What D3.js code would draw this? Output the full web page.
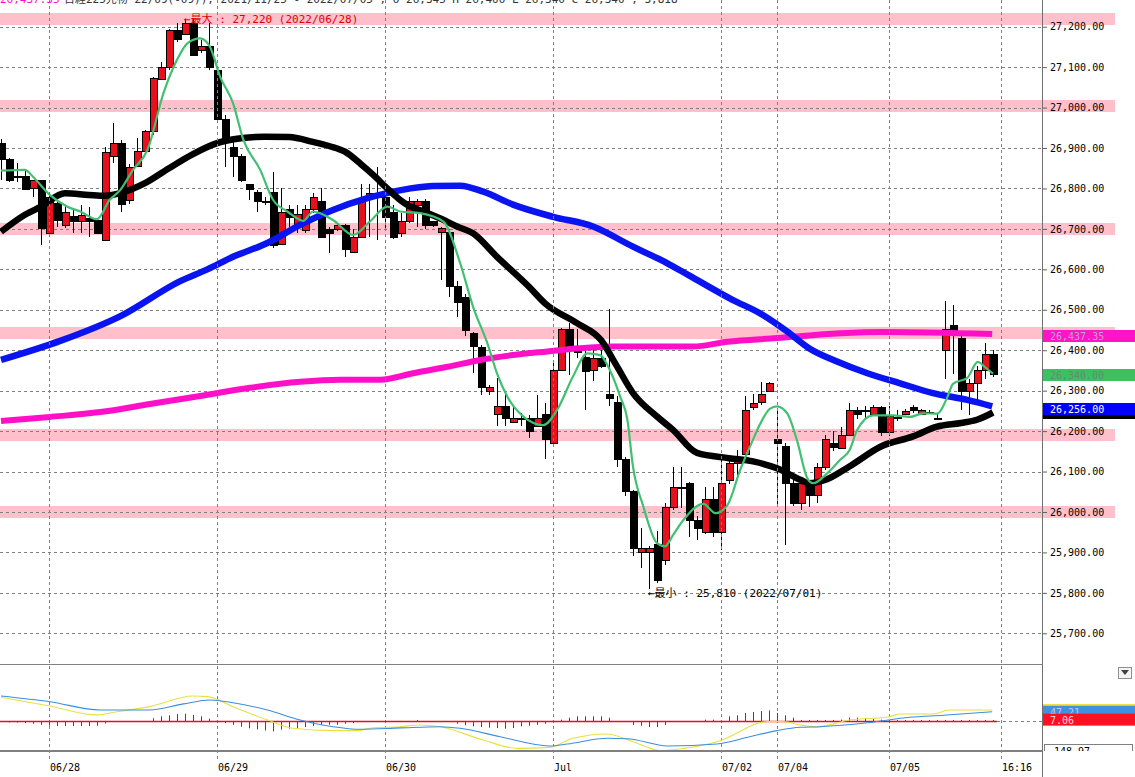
<!DOCTYPE html>
<html><head><meta charset="utf-8">
<script src="https://cdn.jsdelivr.net/npm/d3@7"></script>
<style>
body{margin:0;background:#fff;}
svg{display:block;font-family:"DejaVu Sans Mono","Noto Sans CJK JP",monospace;}
</style>
</head><body>
<svg id="chart" width="1135" height="777"></svg>
<script>
// ---------- DATA ----------
const opens  = [26912,26872,26832,26832,26800,26821,26692,26763,26712,26732,26720,26727,26722,26673,26881,26912,26770,26854,26891,26940,27072,27101,27192,27182,27210,27143,27152,27093,26972,26903,26881,26811,26792,26770,26792,26665,26750,26713,26697,26750,26769,26700,26700,26710,26643,26680,26778,26789,26780,26741,26690,26719,26758,26769,26719,26692,26693,26560,26531,26442,26409,26300,26240,26261,26222,26232,26232,26212,26242,26170,26351,26452,26400,26384,26350,26380,26291,26273,26131,26051,25900,25900,25921,25881,26012,26061,26071,25980,25950,26031,25950,26079,26121,26141,26259,26270,26300,26180,26162,26071,26021,26071,26042,26111,26170,26160,26190,26252,26252,26243,26260,26199,26235,26243,26260,26243,26248,26232,26400,26462,26430,26300,26319,26350,26390];
const highs  = [26922,26875,26862,26845,26822,26822,26782,26770,26760,26747,26760,26754,26725,26902,26961,26920,26861,26924,26945,27075,27113,27195,27210,27220,27218,27167,27210,27095,26982,26920,26885,26811,26795,26780,26840,26800,26760,26760,26760,26790,26800,26705,26715,26712,26700,26812,26810,26853,26790,26760,26740,26780,26775,26775,26720,26705,26700,26570,26540,26445,26412,26315,26331,26298,26261,26245,26240,26290,26269,26370,26455,26467,26452,26400,26400,26400,26501,26286,26135,26055,25960,25915,25952,26021,26112,26112,26075,25990,26061,26061,26137,26137,26154,26288,26292,26321,26322,26251,26170,26080,26080,26080,26121,26191,26200,26210,26270,26260,26262,26265,26262,26261,26252,26255,26265,26255,26252,26243,26522,26511,26440,26330,26360,26418,26400];
const lows   = [26820,26815,26815,26795,26780,26660,26688,26705,26702,26691,26690,26680,26688,26672,26862,26743,26762,26852,26885,26932,27070,27093,27163,27180,27130,27134,27093,26970,26854,26829,26815,26772,26743,26760,26652,26660,26705,26690,26690,26740,26680,26640,26695,26630,26640,26680,26680,26672,26700,26675,26680,26715,26705,26700,26705,26574,26532,26481,26434,26343,26290,26290,26212,26212,26220,26212,26183,26210,26131,26168,26348,26339,26380,26253,26323,26355,26261,26111,26040,25891,25862,25810,25825,25869,26005,26010,25939,25930,25945,25939,25907,26070,26079,26135,26251,26265,26298,26020,25918,26015,26005,26012,26021,26105,26150,26155,26188,26230,26230,26240,26188,26188,26225,26240,26245,26240,26245,26232,26330,26342,26252,26241,26275,26329,26335];
const closes = [26872,26820,26830,26800,26820,26702,26780,26720,26743,26720,26735,26720,26690,26891,26912,26761,26852,26892,26941,27072,27101,27192,27170,27210,27132,27152,27101,26972,26920,26881,26821,26799,26770,26770,26660,26743,26730,26737,26750,26780,26680,26690,26710,26651,26680,26769,26790,26779,26730,26680,26719,26769,26769,26710,26710,26702,26559,26520,26450,26409,26310,26310,26261,26232,26232,26232,26199,26232,26180,26351,26452,26405,26395,26350,26380,26360,26281,26131,26051,25911,25911,25911,25833,26012,26061,26061,25980,25960,26031,25950,26071,26121,26131,26251,26270,26291,26319,26170,26071,26021,26071,26042,26111,26180,26160,26191,26252,26243,26252,26260,26199,26238,26235,26250,26252,26252,26248,26232,26453,26450,26300,26319,26350,26390,26340];

// moving averages: [bar position, value]
const maShort = [[0,26844],[3,26846],[4,26829],[6.1,26784],[8.3,26755],[9.9,26743],[12,26724],[13.6,26772],[14.9,26796],[16.5,26846],[18.3,26895],[20.3,27035],[22,27118],[23.3,27159],[24.9,27171],[26.1,27151],[27.4,27076],[29,27011],[30.3,26920],[32.4,26846],[34,26772],[35.8,26743],[37.8,26720],[39,26743],[41.5,26722],[44,26685],[46.1,26718],[48.3,26755],[49.9,26743],[52.4,26739],[55.3,26718],[57.4,26615],[59,26508],[60.8,26417],[62,26343],[63.3,26285],[65.3,26236],[67.8,26215],[69.5,26252],[71.5,26335],[73.3,26392],[74.9,26388],[76.1,26351],[77.4,26285],[78.3,26228],[79,26112],[80.3,26013],[82,25923],[83,25915],[84,25943],[85.3,25980],[87.8,26020],[89.3,25997],[90.8,26017],[92.4,26104],[94,26179],[94.9,26218],[96.1,26255],[97,26261],[98.3,26243],[99.5,26177],[100.8,26083],[101.5,26071],[103.3,26096],[104.9,26129],[106.1,26154],[107,26202],[109,26239],[111.5,26239],[113.6,26235],[115.3,26244],[117,26243],[118.3,26284],[119,26317],[120.8,26332],[122.1,26371],[123,26358],[124,26342]];
const maMid = [[0,26693],[3,26735],[5,26755],[8,26788],[11,26784],[13,26782],[15,26789],[18,26813],[21,26850],[24,26885],[27,26912],[30,26924],[33,26928],[36,26927],[39,26915],[41,26905],[43,26891],[45,26860],[46,26843],[47,26825],[48,26805],[49,26787],[50,26770],[51,26757],[53,26742],[55,26725],[57,26706],[59,26689],[62,26631],[66,26557],[68,26516],[72,26467],[75,26425],[77,26360],[79,26294],[82,26236],[84,26203],[87,26146],[91,26133],[94,26125],[97,26108],[100,26079],[101,26071],[103,26079],[106,26112],[110,26162],[114,26187],[117,26211],[120,26220],[122,26228],[124,26246]];
const maLong = [[0,26376],[7.4,26423],[15,26485],[22.4,26571],[25.8,26600],[29,26631],[33.3,26665],[37.4,26710],[41.5,26747],[45.8,26776],[50,26796],[54,26806],[57.4,26807],[60.3,26792],[64,26760],[69,26730],[74,26706],[79,26656],[83.3,26615],[86,26585],[91.5,26524],[94.9,26491],[98.3,26446],[101,26405],[104.5,26372],[108.3,26343],[112.4,26318],[116.5,26294],[120.8,26277],[123.9,26261]];
const maXLong = [[0,26225],[6.1,26235],[12.4,26247],[18.6,26267],[24.9,26287],[31.1,26307],[37.4,26322],[42.4,26327],[47.4,26327],[51.5,26343],[55.8,26359],[59.9,26376],[64,26388],[68.3,26397],[72.4,26405],[76.5,26409],[86.5,26409],[90.8,26421],[97,26430],[104.9,26442],[110.3,26445],[123.9,26440]];

// MACD panel
const macdLine = [[0,127],[6.1,98],[12.4,56],[18.6,56],[22.8,87],[26.1,107],[29,93],[33.3,56],[37.4,5],[41.5,-29],[44.9,-42],[49.9,-35],[54.9,-29],[57.4,-37],[62.4,-80],[68.6,-127],[70.8,-117],[75.8,-88],[78.3,-90],[83.3,-127],[89.5,-117],[93.6,-80],[97,-49],[99.9,-32],[102.4,-29],[108.3,-9],[113.6,19],[117.8,29],[123.9,47]];
const signalLine = [[0,121],[6.1,76],[12,31],[14.5,47],[18.6,73],[24,127],[25.8,124],[29,73],[33.3,5],[36.5,-37],[41.5,-49],[44.5,-49],[46.5,-34],[49.9,-29],[52.4,-20],[54.9,-29],[60.3,-97],[64.5,-139],[68.6,-134],[71.5,-88],[75.8,-66],[79,-105],[82.4,-150],[85.3,-139],[89.9,-100],[95.8,-3],[97.8,-3],[99.9,-20],[102,-29],[106.1,5],[111.1,22],[112.4,36],[116.5,36],[118.6,56],[123.9,56]];
const histogram = [-5,-7,-8,-10,-14,-19,-24,-26,-26,-26,-26,-26,-24,-12,-2,-5,0,0,0,14,24,29,36,37,31,24,12,0,-10,-19,-29,-37,-43,-48,-53,-44,-39,-37,-31,-26,-20,-19,-19,-14,-10,0,0,0,0,0,0,0,5,0,0,0,0,-14,-22,-27,-31,-34,-36,-39,-36,-27,-24,-19,-14,0,7,17,24,24,24,24,17,0,0,-20,-24,-31,-31,-20,-5,0,0,0,7,7,0,24,29,41,46,51,54,41,29,17,5,5,5,5,5,7,17,17,15,12,7,5,5,5,5,5,5,5,5,5,5,5,5,5,5];

const priceTicks = d3.range(25700, 27201, 100);
const bandLevels = [27220, 27005, 26700, 26443, 26190, 26000];
const dateTicks = [6, 27, 48, 69, 90, 97, 111, 125];
const dateLabels = ["06/28","06/29","06/30","Jul","07/02","07/04","07/05","16:16"];
const maxInfo = {bar:23, value:27220, text:"←最大 : 27,220 (2022/06/28)"};
const minInfo = {bar:81, value:25810, text:"←最小 : 25,810 (2022/07/01)"};
const lastLabels = [
  {value:26437.35, text:"26,437.35", fill:"#ff14c8", color:"#b8a8c8"},
  {value:26340.00, text:"26,340.00", fill:"#3cc060", color:"#6a8a70"},
  {value:26246.00, text:"", fill:"#000000", color:"#fff"},
  {value:26256.00, text:"26,256.00", fill:"#0000ff", color:"#ffffff"}
];
const macdLabels = [
  {value:56, text:"", fill:"#f0e040", color:"#000"},
  {value:47, text:"47.21", fill:"#4090e0", color:"#c0c8ff"},
  {value:7.06, text:"7.06", fill:"#ff1020", color:"#ffd8d8"}
];
const header = "日経225先物 22/09(-09)), 2021/11/25 - 2022/07/05 ; O 26,345 H 26,400 L 26,340 C 26,340 ; 3,818";

// ---------- LAYOUT ----------
const W = 1135, H = 777, plotR = 1042;
const mainTop = 0, mainBot = 662, macdTop = 664, macdBot = 750.5;
const svg = d3.select("#chart");
svg.append("rect").attr("width", W).attr("height", H).attr("fill", "#fff");

const x = d3.scaleLinear().domain([0, 125]).range([1, 1001]);
const y = d3.scaleLinear().domain([25700, 27200]).range([633.3, 26.7]);
const ym = d3.scaleLinear().domain([-150, 290]).range([750.5, 664]);

const defs = svg.append("defs");
defs.append("clipPath").attr("id","clipMain").append("rect").attr("x",0).attr("y",mainTop).attr("width",plotR).attr("height",mainBot-mainTop);
defs.append("clipPath").attr("id","clipBands").append("rect").attr("x",0).attr("y",mainTop).attr("width",1115).attr("height",mainBot-mainTop);
defs.append("clipPath").attr("id","clipMacd").append("rect").attr("x",0).attr("y",macdTop).attr("width",plotR).attr("height",macdBot-macdTop);
defs.append("clipPath").attr("id","clipRight").append("rect").attr("x",plotR).attr("y",0).attr("width",W-plotR).attr("height",751);

// pink bands (extend under the price column)
svg.append("g").attr("clip-path","url(#clipBands)")
  .selectAll("rect.band").data(bandLevels).join("rect")
  .attr("class","band").attr("x",0).attr("width",1115)
  .attr("y", d => Math.round(y(d)) - 6).attr("height", 12).attr("fill", "#ffc0cb");

const main = svg.append("g").attr("clip-path","url(#clipMain)");

// horizontal grid
main.selectAll("line.hg").data(priceTicks).join("line")
  .attr("x1",0).attr("x2",plotR)
  .attr("y1", d => Math.round(y(d)) + 0.5).attr("y2", d => Math.round(y(d)) + 0.5)
  .attr("stroke","#808080").attr("stroke-dasharray","3,3");

// vertical grid (whole height)
svg.append("g").selectAll("line").data(dateTicks).join("line")
  .attr("x1", d => Math.round(x(d)) + 0.5).attr("x2", d => Math.round(x(d)) + 0.5)
  .attr("y1", 0).attr("y2", 760)
  .attr("stroke","#808080").attr("stroke-dasharray","3,3");

// candles
const idx = d3.range(opens.length);
const cg = main.append("g").attr("shape-rendering","crispEdges");
cg.selectAll("line.wick").data(idx).join("line")
  .attr("x1", i => Math.round(x(i)) + 0.5).attr("x2", i => Math.round(x(i)) + 0.5)
  .attr("y1", i => y(highs[i])).attr("y2", i => y(lows[i]))
  .attr("stroke","#000");
cg.selectAll("rect.body").data(idx).join("rect")
  .attr("x", i => Math.round(x(i)) - 3)
  .attr("width", 7)
  .attr("y", i => Math.round(y(Math.max(opens[i], closes[i]))))
  .attr("height", i => Math.max(1, Math.round(Math.abs(y(opens[i]) - y(closes[i])))))
  .attr("fill", i => closes[i] > opens[i] ? "#e8101c" : "#000")
  .attr("stroke", "#000").attr("stroke-width", 1);

// moving averages
const lineGen = d3.line().x(d => x(d[0])).y(d => y(d[1])).curve(d3.curveMonotoneX);
main.append("path").datum(maXLong).attr("d", lineGen).attr("fill","none").attr("stroke","#ff10c8").attr("stroke-width",6).attr("stroke-linejoin","round");
main.append("path").datum(maLong).attr("d", lineGen).attr("fill","none").attr("stroke","#0a14f0").attr("stroke-width",6.5).attr("stroke-linejoin","round");
main.append("path").datum(maMid).attr("d", lineGen).attr("fill","none").attr("stroke","#000").attr("stroke-width",6.5).attr("stroke-linejoin","round");
main.append("path").datum(maShort).attr("d", lineGen).attr("fill","none").attr("stroke","#40c070").attr("stroke-width",2.2).attr("stroke-linejoin","round");

// annotations
main.append("text").attr("x", x(maxInfo.bar) - 1).attr("y", y(maxInfo.value) + 4)
  .attr("font-size", 11).attr("fill", "#e00000").text(maxInfo.text);
main.append("text").attr("x", x(minInfo.bar) - 1).attr("y", y(minInfo.value) + 8)
  .attr("font-size", 11).attr("fill", "#000").text(minInfo.text);

// header (cut off at top, as in the reference)
svg.append("text").attr("x", 0).attr("y", 3).attr("font-size", 11).attr("fill", "#ff10c8").text("26,437.35");
svg.append("text").attr("x", 64).attr("y", 3).attr("font-size", 11).attr("fill", "#333").text(header);

// ---------- MACD panel ----------
const mg = svg.append("g").attr("clip-path","url(#clipMacd)");
mg.append("line").attr("x1", x(124)+4).attr("x2", plotR).attr("y1", Math.round(ym(0))+0.5).attr("y2", Math.round(ym(0))+0.5)
  .attr("stroke","#808080").attr("stroke-dasharray","3,3");
mg.selectAll("line.h").data(idx.filter(i => histogram[i] !== 0)).join("line")
  .attr("x1", i => Math.round(x(i)) + 0.5).attr("x2", i => Math.round(x(i)) + 0.5)
  .attr("y1", Math.round(ym(0))).attr("y2", i => ym(histogram[i]))
  .attr("stroke","#c81028").attr("stroke-width",1);
mg.append("line").attr("x1",0).attr("x2",x(124)+4).attr("y1",Math.round(ym(0))+0.5).attr("y2",Math.round(ym(0))+0.5)
  .attr("stroke","#e01020").attr("stroke-width",1.3);
const mLine = d3.line().x(d => x(d[0])).y(d => ym(d[1])).curve(d3.curveMonotoneX);
mg.append("path").datum(signalLine).attr("d", mLine).attr("fill","none").attr("stroke","#e8e040").attr("stroke-width",1.1);
mg.append("path").datum(macdLine).attr("d", mLine).attr("fill","none").attr("stroke","#3a8ee0").attr("stroke-width",1.1);

// panel borders
svg.append("line").attr("x1",0).attr("x2",plotR).attr("y1",macdTop+0.5).attr("y2",macdTop+0.5).attr("stroke","#808080");
svg.append("line").attr("x1",0).attr("x2",plotR).attr("y1",751).attr("y2",751).attr("stroke","#808080").attr("stroke-width",2);

// ---------- right price axis ----------
const axisG = svg.append("g").attr("transform", `translate(${plotR},0)`)
  .call(d3.axisRight(y).tickValues(priceTicks).tickFormat(d3.format(",.2f")).tickSize(5).tickPadding(3));
axisG.select(".domain").remove();
axisG.selectAll("text").attr("font-size",10).attr("font-family","DejaVu Sans Mono").attr("fill","#000");
axisG.selectAll("line").attr("stroke","#606060");

const rg = svg.append("g").attr("clip-path","url(#clipRight)");
rg.selectAll("g.lbl").data(lastLabels).join("g").each(function(d){
  const g = d3.select(this), cy = Math.round(y(d.value)) + 1;
  g.append("rect").attr("x", plotR+1).attr("y", cy-6).attr("width", 92).attr("height", 12).attr("fill", d.fill);
  g.append("text").attr("x", plotR+8).attr("y", cy+4).attr("font-size",10).attr("fill", d.color).text(d.text);
});
rg.selectAll("g.ml").data(macdLabels).join("g").each(function(d){
  const g = d3.select(this), cy = ym(d.value);
  g.append("rect").attr("x", plotR+1).attr("y", cy-6).attr("width", 92).attr("height", 12).attr("fill", d.fill);
  g.append("text").attr("x", plotR+8).attr("y", cy+4).attr("font-size",10).attr("fill", d.color).text(d.text);
});
rg.append("rect").attr("x", plotR+2.5).attr("y", 744.5).attr("width", 88).attr("height", 14).attr("fill","#fff").attr("stroke","#808080");
rg.append("text").attr("x", plotR+6).attr("y", 755).attr("font-size",10).attr("fill","#000").text("-148.97");

// dropdown icon
svg.append("rect").attr("x",1118.5).attr("y",667.5).attr("width",13).attr("height",11).attr("fill","#f4f4f4").attr("stroke","#909090");
svg.append("path").attr("d","M1121,670 L1129,670 L1125,675 Z").attr("fill","#404040");

// vertical axis line
svg.append("line").attr("x1",plotR+0.5).attr("x2",plotR+0.5).attr("y1",0).attr("y2",H).attr("stroke","#707070");

// ---------- bottom date axis ----------
const bAxis = svg.append("g").attr("transform","translate(0,751)")
  .call(d3.axisBottom(x).tickValues(dateTicks).tickFormat((d,i) => dateLabels[i]).tickSize(0).tickPadding(0));
bAxis.select(".domain").remove();
bAxis.selectAll("text").attr("text-anchor","start").attr("dx", 0.5).attr("dy", 0).attr("y", 20)
  .attr("font-size",10).attr("font-family","DejaVu Sans Mono").attr("fill","#000");
</script>
</body></html>
